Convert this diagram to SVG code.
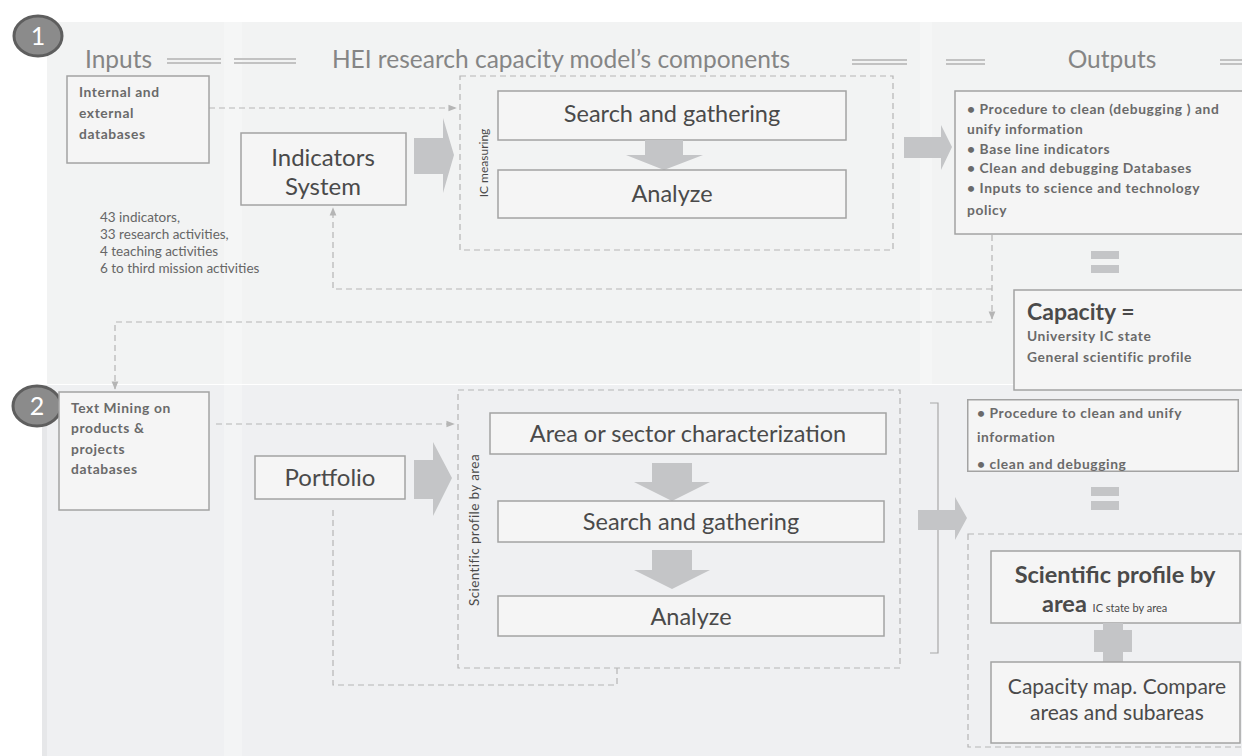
<svg xmlns="http://www.w3.org/2000/svg" width="1242" height="756" viewBox="0 0 1242 756">
  <defs>
    <style>
      .t { font-family: Lato, "Open Sans", "Liberation Sans", sans-serif; fill: #4a4a4a; }
      .head { font-size: 24.5px; fill: #858585; }
      .big { font-size: 23.5px; }
      .sm { font-size: 13.8px; font-weight: bold; fill: #6a6a6a; letter-spacing: 0.6px; }
      .note { font-size: 13.5px; fill: #666; }
      .box { fill: #f5f5f5; stroke: #a3a3a3; stroke-width: 1.5; }
      .dash { fill: none; stroke: #b5b5b5; stroke-width: 1.2; stroke-dasharray: 6 4; }
      .fat { fill: #c4c5c7; }
      .dbl { stroke: #c2c2c2; stroke-width: 2; }
      .num { fill: #8b8b8b; stroke: #5e5e5e; stroke-width: 3; }
    </style>
    <marker id="ah" viewBox="0 0 10 10" refX="9" refY="5" markerWidth="7" markerHeight="7" orient="auto">
      <path d="M0,1 L10,5 L0,9 z" fill="#b5b5b5"/>
    </marker>
  </defs>

  <!-- backgrounds -->
  <rect x="0" y="0" width="1242" height="756" fill="#ffffff"/>
  <rect x="47" y="22" width="1195" height="362" fill="#f2f3f3"/>
  <rect x="42" y="385" width="1200" height="371" fill="#eff0f2"/>
  <rect x="42" y="385" width="5" height="371" fill="#e6e7e9"/>
  <rect x="224" y="22" width="18" height="362" fill="#f5f6f6"/>
  <rect x="224" y="385" width="18" height="371" fill="#f3f4f5"/>
  <rect x="920" y="22" width="12" height="362" fill="#f5f6f6"/>

  <!-- header row -->
  <g id="header">
    <text class="t head" x="85" y="68">Inputs</text>
    <line class="dbl" x1="167" y1="59" x2="221" y2="59"/>
    <line class="dbl" x1="167" y1="63" x2="221" y2="63"/>
    <line class="dbl" x1="234" y1="59" x2="296" y2="59"/>
    <line class="dbl" x1="234" y1="63" x2="296" y2="63"/>
    <text class="t head" x="561" y="68" text-anchor="middle">HEI research capacity model’s components</text>
    <line class="dbl" x1="852" y1="60" x2="907" y2="60"/>
    <line class="dbl" x1="852" y1="64" x2="907" y2="64"/>
    <line class="dbl" x1="946" y1="60" x2="985" y2="60"/>
    <line class="dbl" x1="946" y1="64" x2="985" y2="64"/>
    <text class="t head" x="1112" y="68" text-anchor="middle">Outputs</text>
    <line class="dbl" x1="1220" y1="60" x2="1242" y2="60"/>
    <line class="dbl" x1="1220" y1="64" x2="1242" y2="64"/>
  </g>

  <!-- section markers -->
  <g id="marker1">
    <ellipse class="num" cx="38" cy="36" rx="24" ry="20"/>
    <text class="t" x="38" y="45" font-size="25" text-anchor="middle" style="fill:#fff">1</text>
  </g>
  <g id="marker2">
    <ellipse class="num" cx="37" cy="406" rx="24" ry="20"/>
    <text class="t" x="37" y="415" font-size="25" text-anchor="middle" style="fill:#fff">2</text>
  </g>

  <!-- connectors -->
  <g id="connectors">
    <path class="dash" d="M209,108 H456" marker-end="url(#ah)"/>
    <path class="dash" d="M992,235 V319" marker-end="url(#ah)"/>
    <path class="dash" d="M992,289 H333 V208" marker-end="url(#ah)"/>
    <path class="dash" d="M992,322 H115 V389" marker-end="url(#ah)"/>
    <path class="dash" d="M216,424 H454" marker-end="url(#ah)"/>
    <path class="dash" d="M333,510 V685 H617 V668"/>
    <path d="M930,403 H938 V653 H930" fill="none" stroke="#a8a8a8" stroke-width="1.2"/>
  </g>

  <!-- stage 1 -->
  <g id="inputs1">
    <rect class="box" x="67" y="76" width="142" height="87"/>
    <text class="t sm" x="79" y="97">Internal and</text>
    <text class="t sm" x="79" y="118">external</text>
    <text class="t sm" x="79" y="139">databases</text>
  </g>
  <g id="indicators">
    <rect class="box" x="241" y="133" width="165" height="72"/>
    <text class="t" x="323" y="166" font-size="24" text-anchor="middle">Indicators</text>
    <text class="t" x="323" y="195" font-size="24" text-anchor="middle">System</text>
  </g>
  <g id="indicator-notes">
    <text class="t note" x="100" y="222">43 indicators,</text>
    <text class="t note" x="100" y="239">33 research activities,</text>
    <text class="t note" x="100" y="256">4 teaching activities</text>
    <text class="t note" x="100" y="273">6 to third mission activities</text>
  </g>
  <path class="fat" d="M414,138 H443 V118 L454,155 L443,193 V174 H414 z"/>
  <g id="ic-measuring">
    <rect class="dash" x="460" y="76" width="433" height="174"/>
    <text class="t" x="0" y="0" font-size="12" text-anchor="middle" transform="translate(488,163) rotate(-90)">IC measuring</text>
    <rect class="box" x="498" y="91" width="348" height="49"/>
    <text class="t big" x="672" y="122" text-anchor="middle">Search and gathering</text>
    <path class="fat" d="M645,140 H683 V155 H703 L664,170 L626,155 H645 z"/>
    <rect class="box" x="498" y="170" width="348" height="48"/>
    <text class="t big" x="672" y="202" text-anchor="middle">Analyze</text>
  </g>
  <path class="fat" d="M904,137 H941 V125 L952,147 L941,170 V158 H904 z"/>
  <g id="outputs1">
    <rect class="box" x="955" y="91" width="295" height="143"/>
    <text class="t sm" x="967" y="114">• Procedure to clean (debugging ) and</text>
    <text class="t sm" x="967" y="134">unify information</text>
    <text class="t sm" x="967" y="154">• Base line indicators</text>
    <text class="t sm" x="967" y="173">• Clean and debugging Databases</text>
    <text class="t sm" x="967" y="193">• Inputs to science and technology</text>
    <text class="t sm" x="967" y="215">policy</text>
  </g>
  <g id="equals1">
    <rect class="fat" x="1091" y="251" width="28" height="8"/>
    <rect class="fat" x="1091" y="265" width="28" height="8"/>
  </g>
  <g id="capacity">
    <rect class="box" x="1014" y="290" width="236" height="100"/>
    <text class="t" x="1027" y="320" font-size="23" font-weight="bold">Capacity =</text>
    <text class="t sm" x="1027" y="341">University IC state</text>
    <text class="t sm" x="1027" y="362">General scientific profile</text>
  </g>

  <!-- stage 2 -->
  <g id="inputs2">
    <rect class="box" x="59" y="392" width="150" height="118"/>
    <text class="t sm" x="71" y="413">Text Mining on</text>
    <text class="t sm" x="71" y="433">products &amp;</text>
    <text class="t sm" x="71" y="454">projects</text>
    <text class="t sm" x="71" y="474">databases</text>
  </g>
  <g id="portfolio">
    <rect class="box" x="255" y="456" width="150" height="43"/>
    <text class="t" x="330" y="486" font-size="24" text-anchor="middle">Portfolio</text>
  </g>
  <path class="fat" d="M414,460 H433 V442 L452,478 L433,516 V499 H414 z"/>
  <g id="profile-by-area">
    <rect class="dash" x="458" y="390" width="442" height="278"/>
    <text class="t" x="0" y="0" font-size="13.5" letter-spacing="0.4" text-anchor="middle" transform="translate(479,530) rotate(-90)">Scientific profile by area</text>
    <rect class="box" x="490" y="413" width="396" height="41"/>
    <text class="t big" x="688" y="442" text-anchor="middle">Area or sector characterization</text>
    <path class="fat" d="M652,463 H692 V482 H710 L672,501 L634,482 H652 z"/>
    <rect class="box" x="498" y="501" width="386" height="41"/>
    <text class="t big" x="691" y="530" text-anchor="middle">Search and gathering</text>
    <path class="fat" d="M652,550 H692 V570 H710 L672,589 L634,570 H652 z"/>
    <rect class="box" x="498" y="596" width="386" height="40"/>
    <text class="t big" x="691" y="625" text-anchor="middle">Analyze</text>
  </g>
  <path class="fat" d="M918,510 H955 V497 L967,518 L955,540 V530 H918 z"/>
  <g id="outputs2">
    <svg x="967" y="399" width="272" height="73" overflow="hidden">
      <rect class="box" x="0.75" y="0.75" width="270.5" height="71.5"/>
      <text class="t sm" x="10" y="19">• Procedure to clean and unify</text>
      <text class="t sm" x="10" y="43">information</text>
      <text class="t sm" x="10" y="70">• clean and debugging</text>
    </svg>
  </g>
  <g id="equals2">
    <rect class="fat" x="1091" y="487" width="28" height="9"/>
    <rect class="fat" x="1091" y="501" width="28" height="9"/>
  </g>
  <g id="area-results">
    <rect class="dash" x="968" y="534" width="290" height="213"/>
    <rect class="box" x="991" y="551" width="249" height="72"/>
    <text class="t" x="1115" y="583" font-size="23.5" font-weight="bold" text-anchor="middle">Scientific profile by</text>
    <text class="t" x="1042" y="612" font-size="23.5" font-weight="bold">area <tspan font-size="11" font-weight="normal">IC state by area</tspan></text>
    <path class="fat" d="M1103,623 H1123 V630 H1132 V652 H1123 V662 H1103 V652 H1094 V630 H1103 z"/>
    <rect class="box" x="991" y="662" width="249" height="81"/>
    <text class="t" x="1117" y="694" font-size="21" text-anchor="middle">Capacity map. Compare</text>
    <text class="t" x="1117" y="720" font-size="21" text-anchor="middle">areas and subareas</text>
  </g>
</svg>
